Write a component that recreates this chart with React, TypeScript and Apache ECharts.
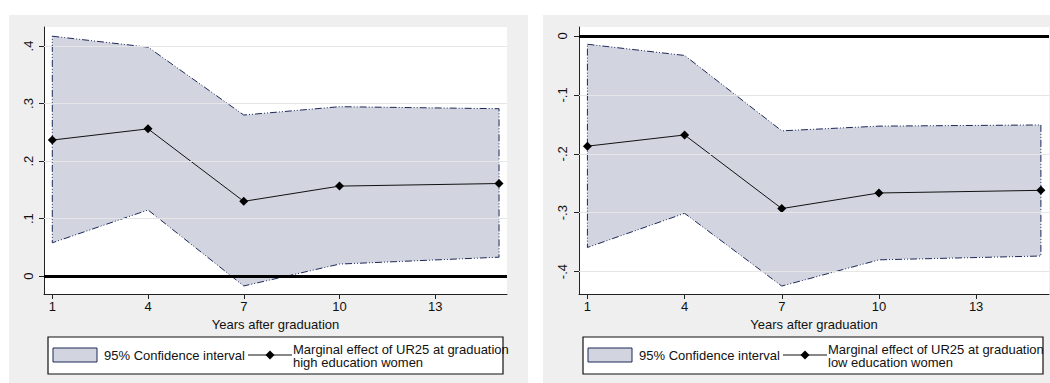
import React, { useEffect, useRef } from "react";
import * as echarts from "echarts";

// ---- data ----
const years = [1, 4, 7, 10, 15];
const xTicks = [1, 4, 7, 10, 13];

// high education women
const highEst = [0.2365, 0.256, 0.13, 0.1565, 0.161];
const highUpper = [0.417, 0.398, 0.28, 0.2945, 0.291];
const highLower = [0.058, 0.115, -0.017, 0.021, 0.033];
const highTicks = [0, 0.1, 0.2, 0.3, 0.4];

// low education women
const lowEst = [-0.187, -0.168, -0.293, -0.2665, -0.262];
const lowUpper = [-0.014, -0.033, -0.161, -0.153, -0.151];
const lowLower = [-0.359, -0.301, -0.4245, -0.38, -0.3735];
const lowTicks = [-0.4, -0.3, -0.2, -0.1, 0];

const xAxisTitle = "Years after graduation";
const legendCI = "95% Confidence interval";
const legendLine1 = "Marginal effect of UR25 at graduation";
const legendHigh = "high education women";
const legendLow = "low education women";

const FONT = "'Liberation Sans', Arial, sans-serif";
const FILL = "#d2d5df";
const EDGE = "#1d2859";
const PANEL_BG = "#efefef";

function fmtY(v: number): string {
  if (Math.abs(v) < 1e-9) return "0";
  const s = String(Math.abs(Math.round(v * 10) / 10)).replace(/^0/, "");
  return (v < 0 ? "-" : "") + s;
}

function panelSeries(idx: number, est: number[], upper: number[], lower: number[], ticks: number[]) {
  return [
    {
      type: "line",
      xAxisIndex: idx,
      yAxisIndex: idx,
      data: [],
      z: 1,
      silent: true,
      markLine: {
        silent: true,
        symbol: "none",
        label: { show: false },
        lineStyle: { color: "#e6e6e6", width: 1, type: "solid" },
        data: ticks.filter((v) => v !== 0).map((v) => ({ yAxis: v })),
      },
    },
    {
      type: "custom",
      xAxisIndex: idx,
      yAxisIndex: idx,
      z: 2,
      silent: true,
      data: [[years[0], lower[0]]],
      renderItem: (_params: any, api: any) => {
        const pts: number[][] = [];
        for (let i = 0; i < years.length; i++) pts.push(api.coord([years[i], upper[i]]));
        for (let i = years.length - 1; i >= 0; i--) pts.push(api.coord([years[i], lower[i]]));
        return {
          type: "polygon",
          shape: { points: pts },
          style: {
            fill: FILL,
            stroke: EDGE,
            lineWidth: 1,
            lineDash: [7, 2, 1, 2, 1, 2],
          },
        };
      },
    },
    {
      type: "line",
      xAxisIndex: idx,
      yAxisIndex: idx,
      data: [],
      z: 3,
      silent: true,
      markLine: {
        silent: true,
        symbol: "none",
        label: { show: false },
        lineStyle: { color: "#000", width: 3, type: "solid" },
        data: [{ yAxis: 0 }],
      },
    },
    {
      type: "line",
      xAxisIndex: idx,
      yAxisIndex: idx,
      z: 4,
      data: years.map((x, i) => [x, est[i]]),
      symbol: "diamond",
      symbolSize: 9,
      itemStyle: { color: "#000" },
      lineStyle: { color: "#111", width: 1 },
    },
  ];
}

function xAxis(idx: number) {
  return {
    type: "value",
    gridIndex: idx,
    min: 0.74,
    max: 15.25,
    name: xAxisTitle,
    nameLocation: "middle",
    nameGap: 21,
    nameTextStyle: { fontFamily: FONT, fontSize: 13, color: "#111" },
    axisLine: { show: true, onZero: false, lineStyle: { color: "#222", width: 1 } },
    axisTick: { show: true, length: 5, customValues: xTicks, lineStyle: { color: "#222" } },
    axisLabel: { customValues: xTicks, margin: 6, fontFamily: FONT, fontSize: 13, color: "#111" },
    splitLine: { show: false },
  };
}

function yAxis(idx: number, min: number, max: number, ticks: number[], margin: number) {
  return {
    type: "value",
    gridIndex: idx,
    min,
    max,
    axisLine: { show: true, onZero: false, lineStyle: { color: "#222", width: 1 } },
    axisTick: { show: true, length: 5, customValues: ticks, lineStyle: { color: "#222" } },
    axisLabel: {
      customValues: ticks,
      rotate: 90,
      margin,
      fontFamily: FONT,
      fontSize: 13,
      color: "#111",
      formatter: (v: number) => fmtY(v),
    },
    splitLine: { show: false },
  };
}

function legendGraphic(x0: number, x1: number, textLine2: string) {
  const y0 = 337;
  const y1 = 374;
  const lineX0 = x0 + 200;
  return [
    {
      type: "rect",
      shape: { x: x0, y: y0, width: x1 - x0, height: y1 - y0 },
      style: { fill: "#fff", stroke: "#111", lineWidth: 1.2 },
      z: 10,
    },
    {
      type: "rect",
      shape: { x: x0 + 5, y: 348, width: 44, height: 14 },
      style: { fill: FILL, stroke: EDGE, lineWidth: 1 },
      z: 11,
    },
    {
      type: "text",
      x: x0 + 56,
      y: 355,
      style: {
        text: legendCI,
        font: `13px ${FONT}`,
        fill: "#111",
        verticalAlign: "middle",
        textAlign: "left",
      },
      z: 11,
    },
    {
      type: "line",
      shape: { x1: lineX0, y1: 355, x2: lineX0 + 44, y2: 355 },
      style: { stroke: "#111", lineWidth: 1 },
      z: 11,
    },
    {
      type: "polygon",
      shape: {
        points: [
          [lineX0 + 22, 350.5],
          [lineX0 + 26.5, 355],
          [lineX0 + 22, 359.5],
          [lineX0 + 17.5, 355],
        ],
      },
      style: { fill: "#000" },
      z: 12,
    },
    {
      type: "text",
      x: lineX0 + 45,
      y: 349,
      style: {
        text: legendLine1,
        font: `13px ${FONT}`,
        fill: "#111",
        verticalAlign: "middle",
        textAlign: "left",
      },
      z: 11,
    },
    {
      type: "text",
      x: lineX0 + 45,
      y: 362,
      style: {
        text: textLine2,
        font: `13px ${FONT}`,
        fill: "#111",
        verticalAlign: "middle",
        textAlign: "left",
      },
      z: 11,
    },
  ];
}

export default function App() {
  const ref = useRef<HTMLDivElement>(null);

  useEffect(() => {
    if (!ref.current) return;
    const chart = echarts.init(ref.current, null, { renderer: "svg" });
    const option: any = {
      animation: false,
      backgroundColor: "#fff",
      textStyle: { fontFamily: FONT },
      graphic: [
        {
          type: "rect",
          shape: { x: 9, y: 15, width: 519, height: 368 },
          style: { fill: PANEL_BG },
          z: -10,
          silent: true,
        },
        {
          type: "rect",
          shape: { x: 543, y: 15, width: 507, height: 368 },
          style: { fill: PANEL_BG },
          z: -10,
          silent: true,
        },
        ...legendGraphic(48, 503, legendHigh),
        ...legendGraphic(583, 1043, legendLow),
      ],
      grid: [
        {
          left: 44,
          top: 27,
          width: 463,
          height: 267,
          show: true,
          backgroundColor: "#fff",
          borderWidth: 0,
          z: 0,
        },
        {
          left: 579,
          top: 27,
          width: 470,
          height: 267,
          show: true,
          backgroundColor: "#fff",
          borderWidth: 0,
          z: 0,
        },
      ],
      xAxis: [xAxis(0), xAxis(1)],
      yAxis: [
        yAxis(0, -0.031, 0.433, highTicks, 9),
        yAxis(1, -0.438, 0.0153, lowTicks, 10),
      ],
      series: [
        ...panelSeries(0, highEst, highUpper, highLower, highTicks),
        ...panelSeries(1, lowEst, lowUpper, lowLower, lowTicks),
      ],
    };
    chart.setOption(option);
    return () => chart.dispose();
  }, []);

  return (
    <div
      ref={ref}
      style={{ position: "fixed", left: 0, top: 0, width: 1050, height: 383 }}
    />
  );
}
